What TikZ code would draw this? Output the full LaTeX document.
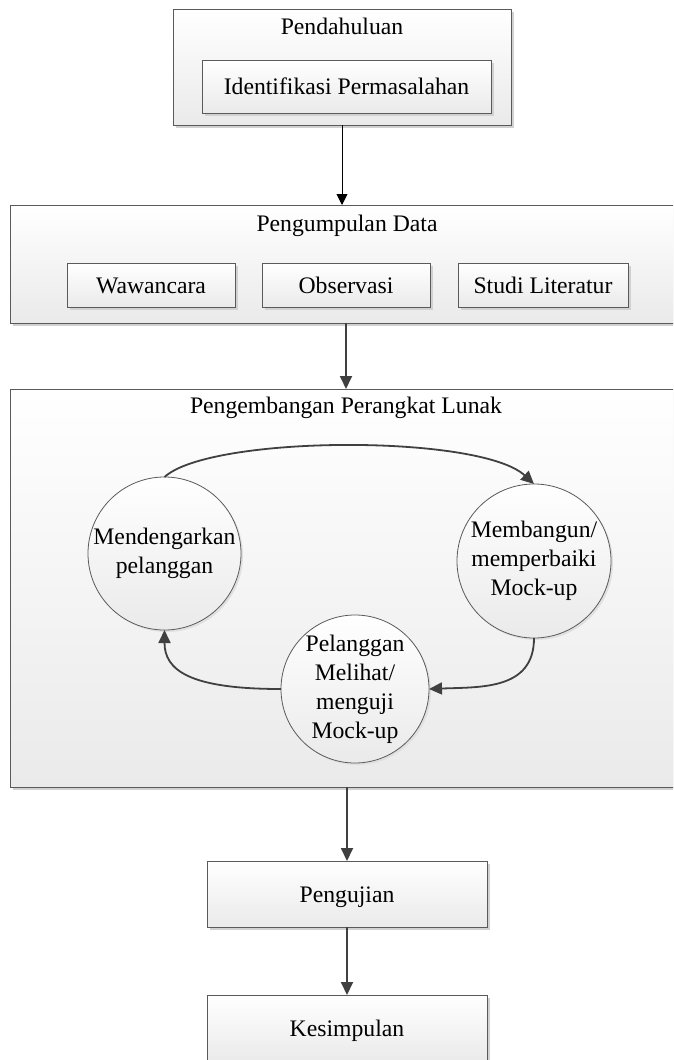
\documentclass[tikz,border=0pt]{standalone}
\usepackage{fontspec}
\setmainfont{Liberation Serif}
\usetikzlibrary{arrows.meta,shadows}
\definecolor{edgec}{HTML}{5A5A5A}
\definecolor{arrowc}{HTML}{404040}
\definecolor{shadeg}{HTML}{EAEAEA}
\begin{document}
\begin{tikzpicture}[x=1pt,y=-1pt,
  every node/.style={font=\fontsize{23.7}{29}\selectfont, inner sep=0pt, outer sep=0pt},
  boxbase/.style={rectangle, draw=edgec, line width=0.9pt, top color=white, bottom color=shadeg,
    text height=16pt, text depth=0pt,
    drop shadow={shadow xshift=3pt, shadow yshift=-3pt, fill=black!18, opacity=1}},
  roundbox/.style={circle, draw=edgec, line width=0.8pt, top color=white, bottom color=shadeg,
    align=center, drop shadow={shadow xshift=2pt, shadow yshift=-2pt, fill=black!12, opacity=1}},
  titletext/.style={anchor=base},
  thinarr/.style={-{Triangle[length=11pt,width=11pt]}, line width=0.9pt, draw=black},
  arr/.style={-{Triangle[length=13pt,width=12pt]}, line width=1.8pt, draw=arrowc},
]
\clip (0,0) rectangle (673,1060);
\fill[white] (0,0) rectangle (673,1060);

% Pendahuluan
\node[boxbase, minimum width=338pt, minimum height=116pt] (pend) at (342,67) {};
\node[titletext] (pendT) at (342,34) {Pendahuluan};
\node[boxbase, minimum width=289pt, minimum height=53pt] (ident) at (346.5,86.5) {Identifikasi Permasalahan};

% Pengumpulan Data
\node[boxbase, minimum width=720pt, minimum height=118pt] (peng) at (370,264) {};
\node[titletext] (pengT) at (347,231) {Pengumpulan Data};
\node[boxbase, minimum width=168pt, minimum height=44pt] (waw) at (151,285) {Wawancara};
\node[boxbase, minimum width=168pt, minimum height=44pt] (obs) at (346,285) {Observasi};
\node[boxbase, minimum width=170pt, minimum height=44pt] (stud) at (543,285) {Studi Literatur};

% Pengembangan Perangkat Lunak
\node[boxbase, minimum width=720pt, minimum height=398pt] (dev) at (370,588) {};
\node[titletext] (devT) at (346,413) {Pengembangan Perangkat Lunak};
\node[roundbox, minimum size=153pt] (M) at (164.5,553.5) {Mendengarkan\\pelanggan};
\node[roundbox, minimum size=154pt] (B) at (534,561) {Membangun/\\memperbaiki\\Mock-up};
\node[roundbox, minimum size=148pt] (P) at (355,689) {Pelanggan\\Melihat/\\menguji\\Mock-up};

% Pengujian, Kesimpulan
\node[boxbase, minimum width=280pt, minimum height=66pt] (uji) at (347,894) {Pengujian};
\node[boxbase, minimum width=280pt, minimum height=66pt] (kes) at (347,1028) {Kesimpulan};

% connectors
\draw[thinarr] (pend.south) -- (pend.south |- peng.north);
\draw[arr] (obs |- peng.south) -- (obs |- dev.north);
\draw[arr] (uji |- dev.south) -- (uji.north);
\draw[arr] (uji.south) -- (kes.north);

\draw[arr] (M.north) .. controls +(46,-42) and +(-54,-50) .. (B.north);
\draw[arr] (B.south) .. controls +(0,52) and +(52,-2) .. (P.east);
\draw[arr] (P.west) .. controls +(-92,0) and +(0,40) .. (M.south);
\end{tikzpicture}
\end{document}
